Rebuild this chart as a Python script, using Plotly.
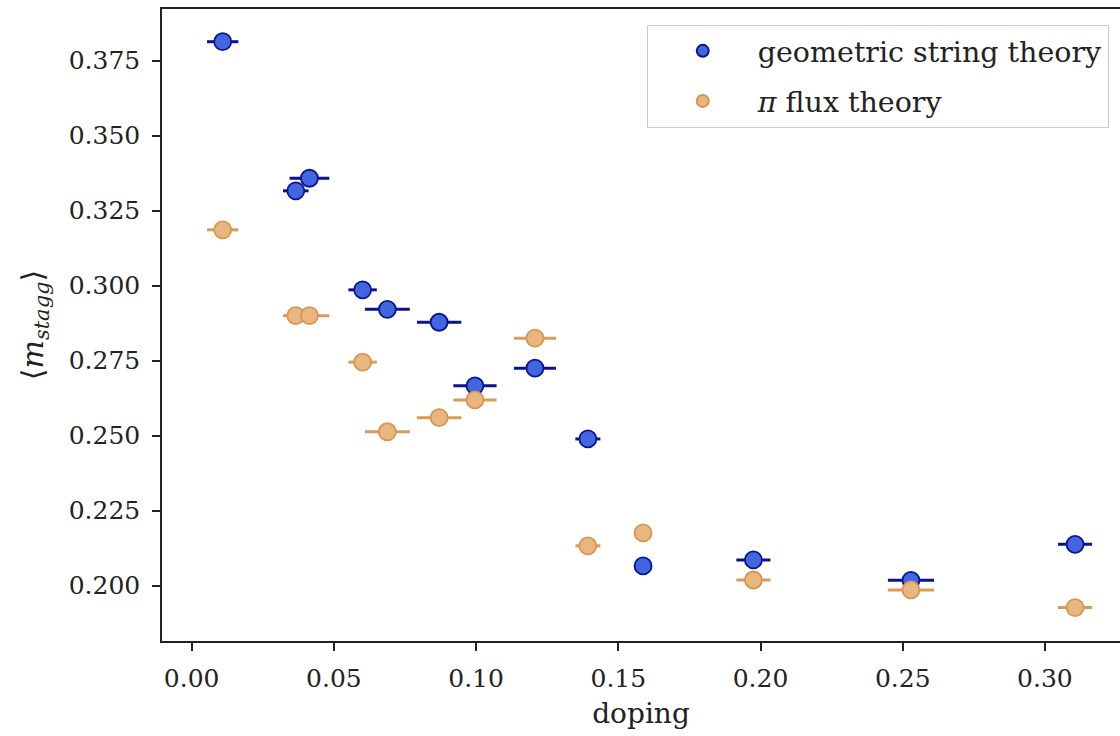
import plotly.graph_objects as go

doping = [0.0109, 0.0366, 0.0414, 0.0601, 0.0688, 0.0870, 0.0996, 0.1207, 0.1393, 0.1587, 0.1975, 0.2529, 0.3106]
doping_err = [0.0055, 0.0045, 0.0070, 0.0050, 0.0079, 0.0078, 0.0076, 0.0074, 0.0044, 0.0015, 0.0060, 0.0081, 0.0060]
m_string = [0.3813, 0.3316, 0.3358, 0.2986, 0.2921, 0.2878, 0.2666, 0.2725, 0.2489, 0.2066, 0.2086, 0.2018, 0.2138]
m_pi = [0.3186, 0.2900, 0.2900, 0.2745, 0.2513, 0.2560, 0.2619, 0.2825, 0.2133, 0.2176, 0.2019, 0.1986, 0.1927]
m_err = [0.001] * 13

xticks = [0.00, 0.05, 0.10, 0.15, 0.20, 0.25, 0.30]
yticks = [0.200, 0.225, 0.250, 0.275, 0.300, 0.325, 0.350, 0.375]

FONT = "DejaVu Serif"

fig = go.Figure()
fig.add_trace(go.Scatter(
    x=doping, y=m_string, mode="markers", name="geometric string theory",
    legendgroup="g1",
    error_x=dict(type="data", array=doping_err, color="#0a128c", thickness=3, width=0),
    error_y=dict(type="data", array=m_err, color="#0a128c", thickness=3, width=0),
    marker=dict(size=17, color="#4166e0", line=dict(color="#0b1490", width=1.8)),
))
fig.add_trace(go.Scatter(
    x=doping, y=m_pi, mode="markers", name="<i>π</i> flux theory",
    legendgroup="g2",
    error_x=dict(type="data", array=doping_err, color="#dc9a55", thickness=3, width=0),
    error_y=dict(type="data", array=m_err, color="#dc9a55", thickness=3, width=0),
    marker=dict(size=17, color="#e8b77f", line=dict(color="#d9954f", width=1.8)),
))

fig.update_layout(
    width=1120, height=736,
    margin=dict(l=162, r=0, t=9, b=95),
    paper_bgcolor="white", plot_bgcolor="white",
    font=dict(family=FONT, size=25, color="#222"),
    showlegend=True,
    legend=dict(x=0.506, y=0.975, xanchor="left", yanchor="top",
                bgcolor="white", bordercolor="#cccccc", borderwidth=1,
                font=dict(family=FONT, size=28.5, color="#222"),
                itemsizing="constant", tracegroupgap=10, itemwidth=100),
    xaxis=dict(range=[-0.01044, 0.3264], tickvals=xticks,
               ticktext=[f"{v:.2f}" for v in xticks],
               showgrid=False, zeroline=False, showline=True, linecolor="#222",
               linewidth=1.5, mirror=True, ticks="outside", ticklen=8, tickwidth=1.5,
               tickcolor="#222", ticklabelstandoff=6,
               title=dict(text="doping", standoff=12, font=dict(family=FONT, size=28))),
    yaxis=dict(range=[0.18157, 0.3922], tickvals=yticks,
               ticktext=[f"{v:.3f}" for v in yticks],
               showgrid=False, zeroline=False, showline=True, linecolor="#222",
               linewidth=1.5, mirror=False, ticks="outside", ticklen=8, tickwidth=1.5,
               tickcolor="#222", ticklabelstandoff=7,
               title=dict(text="⟨<i>m</i><sub><i>stagg</i></sub>⟩", standoff=16,
                          font=dict(family=FONT, size=30))),
)

fig.write_html("out.html")
